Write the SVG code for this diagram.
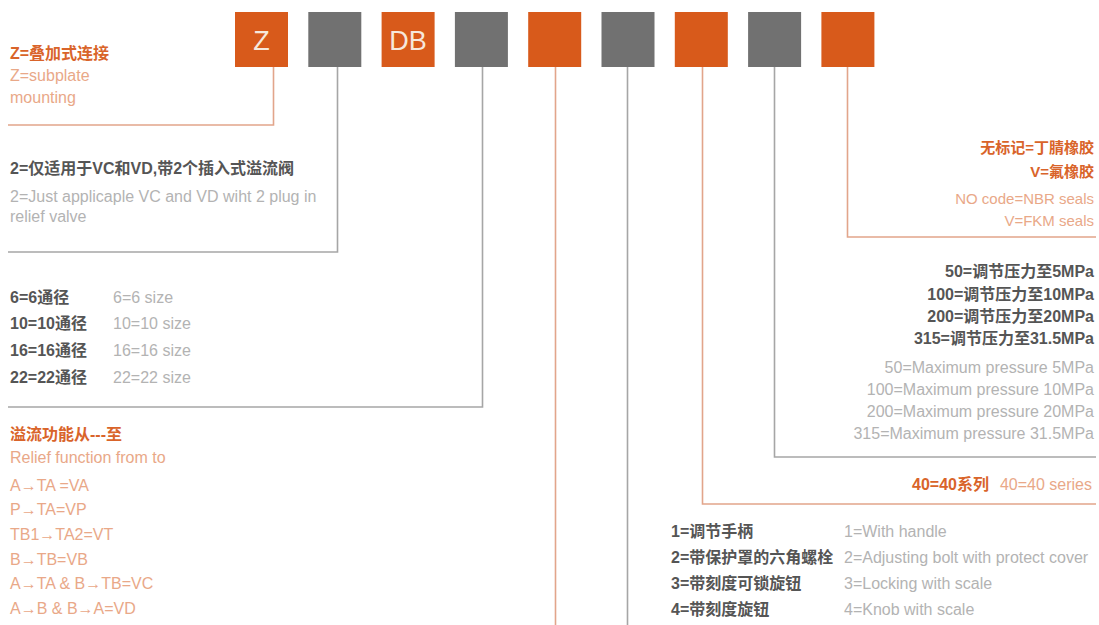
<svg xmlns="http://www.w3.org/2000/svg" width="1099" height="625" viewBox="0 0 1099 625">
<style>
text{font-family:"Liberation Sans","Noto Sans CJK SC",sans-serif;font-size:16px}
.bo{fill:#d85a1b}
.bg{fill:#717171}
.bt{fill:#f6e8dc;font-size:27px;text-anchor:middle}
.lo{fill:none;stroke:#e2a58b;stroke-width:1.6}
.lg{fill:none;stroke:#a6a6a6;stroke-width:1.6}
.ho{fill:#d9642a;font-weight:bold}
.eo{fill:#e9a888}
.hg{fill:#555555;font-weight:bold}
.eg{fill:#b3b3b3}
.r{text-anchor:end}
.s15{font-size:15px}
</style>
<rect width="1099" height="625" fill="#ffffff"/>
<g id="connectors">
<path class="lo" d="M273.5,67 V125 H8"/>
<path class="lg" d="M337.5,67 V252 H8"/>
<path class="lg" d="M482.5,67 V407 H8"/>
<path class="lo" d="M555.5,67 V625"/>
<path class="lg" d="M627.5,67 V625"/>
<path class="lo" d="M702.5,67 V504 H1096"/>
<path class="lg" d="M774.5,67 V457 H1096"/>
<path class="lo" d="M847.5,67 V237 H1096"/>
</g>
<g id="box-z"><rect class="bo" x="235" y="12" width="53" height="55"/><text class="bt" x="261.5" y="49.5">Z</text></g>
<g id="box-2"><rect class="bg" x="308.3" y="12" width="53" height="55"/></g>
<g id="box-db"><rect class="bo" x="381.6" y="12" width="53" height="55"/><text class="bt" x="408.1" y="49.5">DB</text></g>
<g id="box-4"><rect class="bg" x="454.9" y="12" width="53" height="55"/></g>
<g id="box-5"><rect class="bo" x="528.2" y="12" width="53" height="55"/></g>
<g id="box-6"><rect class="bg" x="601.5" y="12" width="53" height="55"/></g>
<g id="box-7"><rect class="bo" x="674.8" y="12" width="53" height="55"/></g>
<g id="box-8"><rect class="bg" x="748.1" y="12" width="53" height="55"/></g>
<g id="box-9"><rect class="bo" x="821.4" y="12" width="53" height="55"/></g>
<g id="label-z">
<text class="ho" x="10" y="59">Z=叠加式连接</text>
<text class="eo" x="10" y="81">Z=subplate</text>
<text class="eo" x="10" y="103">mounting</text>
</g>
<g id="label-2">
<text class="hg" x="10" y="174">2=仅适用于VC和VD,带2个插入式溢流阀</text>
<text class="eg" x="10" y="202">2=Just applicaple VC and VD wiht 2 plug in</text>
<text class="eg" x="10" y="222">relief valve</text>
</g>
<g id="label-size">
<text class="hg" x="10" y="303">6=6通径</text>
<text class="eg" x="113" y="303">6=6 size</text>
<text class="hg" x="10" y="329">10=10通径</text>
<text class="eg" x="113" y="329">10=10 size</text>
<text class="hg" x="10" y="356">16=16通径</text>
<text class="eg" x="113" y="356">16=16 size</text>
<text class="hg" x="10" y="383">22=22通径</text>
<text class="eg" x="113" y="383">22=22 size</text>
</g>
<g id="label-relief">
<text class="ho" x="10" y="440">溢流功能从---至</text>
<text class="eo" x="10" y="463">Relief function from to</text>
<text class="eo" x="10" y="491">A→TA =VA</text>
<text class="eo" x="10" y="515">P→TA=VP</text>
<text class="eo" x="10" y="540">TB1→TA2=VT</text>
<text class="eo" x="10" y="565">B→TB=VB</text>
<text class="eo" x="10" y="589">A→TA &amp; B→TB=VC</text>
<text class="eo" x="10" y="614">A→B &amp; B→A=VD</text>
</g>
<g id="label-seals">
<text class="ho r s15" x="1094" y="153">无标记=丁腈橡胶</text>
<text class="ho r s15" x="1094" y="177">V=氟橡胶</text>
<text class="eo r s15" x="1094" y="204">NO code=NBR seals</text>
<text class="eo r s15" x="1094" y="226">V=FKM seals</text>
</g>
<g id="label-pressure">
<text class="hg r" x="1094" y="277">50=调节压力至5MPa</text>
<text class="hg r" x="1094" y="300">100=调节压力至10MPa</text>
<text class="hg r" x="1094" y="322">200=调节压力至20MPa</text>
<text class="hg r" x="1094" y="344">315=调节压力至31.5MPa</text>
<text class="eg r" x="1094" y="373">50=Maximum pressure 5MPa</text>
<text class="eg r" x="1094" y="395">100=Maximum pressure 10MPa</text>
<text class="eg r" x="1094" y="417">200=Maximum pressure 20MPa</text>
<text class="eg r" x="1094" y="439">315=Maximum pressure 31.5MPa</text>
</g>
<g id="label-series">
<text class="ho r" x="989" y="490">40=40系列</text>
<text class="eo r" x="1092" y="490">40=40 series</text>
</g>
<g id="label-handle">
<text class="hg" x="671" y="537">1=调节手柄</text>
<text class="eg" x="844" y="537">1=With handle</text>
<text class="hg" x="671" y="563">2=带保护罩的六角螺栓</text>
<text class="eg" x="844" y="563">2=Adjusting bolt with protect cover</text>
<text class="hg" x="671" y="589">3=带刻度可锁旋钮</text>
<text class="eg" x="844" y="589">3=Locking with scale</text>
<text class="hg" x="671" y="615">4=带刻度旋钮</text>
<text class="eg" x="844" y="615">4=Knob with scale</text>
</g>
</svg>
